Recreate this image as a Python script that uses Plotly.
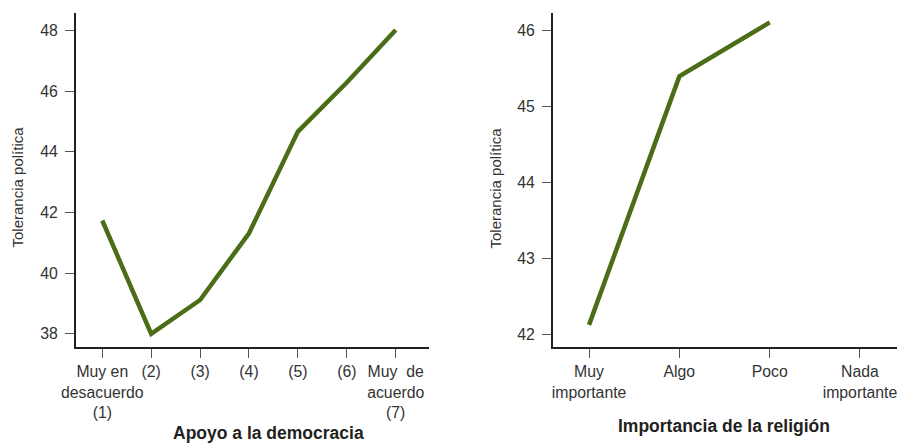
import plotly.graph_objects as go

# Data
apoyo_labels = ["Muy en<br>desacuerdo<br>(1)", "(2)", "(3)", "(4)", "(5)", "(6)", "Muy\u00a0 de<br>acuerdo<br>(7)"]
apoyo_x = [1, 2, 3, 4, 5, 6, 7]
apoyo_tol = [41.74, 38.0, 39.12, 41.32, 44.67, 46.29, 48.02]

relig_labels = ["Muy<br>importante", "Algo", "Poco", "Nada<br>importante"]
relig_x = [0, 1, 2, 3]
relig_tol = [42.12, 45.39, 46.1, None]

left_yticks = [38, 40, 42, 44, 46, 48]
right_yticks = [42, 43, 44, 45, 46]

LINE = "#4b6d17"
AX = "#231f20"
TXT = "#333333"
REG = "Liberation Sans, Arial, sans-serif"

fig = go.Figure()
fig.add_trace(go.Scatter(x=apoyo_x, y=apoyo_tol, mode="lines",
                         line=dict(color=LINE, width=4.5), xaxis="x", yaxis="y",
                         showlegend=False, hoverinfo="skip"))
fig.add_trace(go.Scatter(x=relig_x, y=relig_tol, mode="lines",
                         line=dict(color=LINE, width=4.5), xaxis="x2", yaxis="y2",
                         showlegend=False, hoverinfo="skip"))

axis_common = dict(showline=True, linecolor=AX, linewidth=2, ticks="outside",
                   ticklen=9, tickwidth=1, tickcolor="#555555", showgrid=False,
                   zeroline=False, tickfont=dict(family=REG, size=15.8, color=TXT),
                   fixedrange=True, ticklabeloverflow="allow", automargin=False)

fig.update_layout(
    width=897, height=444, margin=dict(l=0, r=0, t=0, b=0, autoexpand=False),
    paper_bgcolor="white", plot_bgcolor="white",
    xaxis=dict(domain=[0.0847, 0.4786], range=[0.462, 7.687], anchor="y", tickangle=0,
               tickvals=apoyo_x, ticktext=apoyo_labels, **axis_common),
    yaxis=dict(domain=[0.2178, 0.970], range=[37.56, 48.57], anchor="x",
               tickvals=left_yticks, ticklabelstandoff=4, **axis_common),
    xaxis2=dict(domain=[0.6165, 1.0], range=[-0.399, 3.41], anchor="y2", tickangle=0,
                tickvals=relig_x, ticktext=relig_labels, **axis_common),
    yaxis2=dict(domain=[0.2178, 0.970], range=[41.825, 46.22], anchor="x2",
                tickvals=right_yticks, ticklabelstandoff=4, **axis_common),
)

titles = [("Apoyo a la democracia", 268, 441), ("Importancia de la religión", 723.5, 434)]
for text, xc, yb in titles:
    fig.add_annotation(text="<b>" + text + "</b>", xref="paper", yref="paper",
                       x=xc / 897, y=1 - yb / 444, xanchor="center", yanchor="bottom",
                       yshift=-4, showarrow=False,
                       font=dict(family=REG, size=17.5, color=AX))

for xc in (17, 495):
    fig.add_annotation(text="Tolerancia política", xref="paper", yref="paper",
                       x=xc / 897, y=1 - 187.5 / 444, xanchor="center", yanchor="middle",
                       textangle=-90, showarrow=False,
                       font=dict(family=REG, size=15, color=TXT))

fig.write_html("out.html", config={"displayModeBar": False},
               post_script="document.body.style.margin='0';document.body.style.overflow='hidden';")
